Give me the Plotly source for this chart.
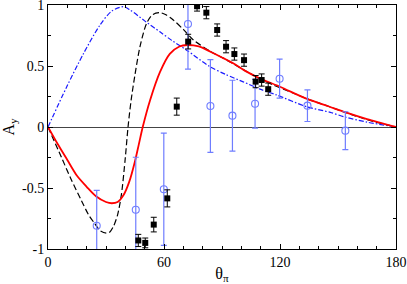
import plotly.graph_objects as go

# ---- data ----
# black squares (data set 1)
sq_theta = [46.7, 50.3, 54.7, 61.7, 66.6, 72.5, 77.1, 81.9, 87.5, 92.1, 96.4, 101.4, 107.4, 110.5, 113.9]
sq_ay    = [-0.93, -0.95, -0.80, -0.585, 0.167, 0.70, 0.99, 0.937, 0.795, 0.658, 0.598, 0.548, 0.372, 0.385, 0.31]
sq_err   = [0.05, 0.04, 0.06, 0.07, 0.07, 0.06, 0.04, 0.05, 0.05, 0.05, 0.05, 0.05, 0.05, 0.05, 0.05]

# open blue circles (data set 2)
ci_theta = [25.2, 45.4, 59.9, 72.4, 84.0, 95.4, 107.1, 119.8, 134.2, 153.8]
ci_ay    = [-0.81, -0.678, -0.51, 0.844, 0.172, 0.093, 0.19, 0.396, 0.175, -0.03]
ci_err   = [0.29, 0.43, 0.46, 0.37, 0.38, 0.29, 0.20, 0.16, 0.13, 0.155]

# red solid curve
red_theta = [0, 5, 10, 15, 20, 25, 30, 33, 36, 39, 42, 45, 47, 49, 52.8, 57.9, 63, 68, 72, 78, 84, 90, 96, 102, 110, 120, 134, 145, 154, 165, 180]
red_ay    = [0, -0.14, -0.27, -0.40, -0.49, -0.57, -0.615, -0.625, -0.615, -0.56, -0.45, -0.28, -0.14, 0, 0.22, 0.45, 0.60, 0.66, 0.672, 0.66, 0.617, 0.57, 0.52, 0.46, 0.395, 0.33, 0.23, 0.17, 0.12, 0.065, 0]

# black dashed curve
bd_theta = [0, 7, 12, 17.2, 21, 24.1, 27, 30.2, 32, 34, 36, 38, 40, 41.4, 43, 45, 47.6, 51, 54, 57.9, 61, 64.8, 70, 75.2, 84, 92.4, 104.5, 116.6, 125, 134.2, 145, 153.8, 165, 180]
bd_ay    = [0, -0.25, -0.43, -0.60, -0.72, -0.79, -0.85, -0.87, -0.86, -0.81, -0.72, -0.55, -0.25, 0, 0.22, 0.43, 0.66, 0.85, 0.92, 0.937, 0.92, 0.877, 0.80, 0.713, 0.62, 0.549, 0.44, 0.344, 0.29, 0.23, 0.17, 0.12, 0.06, 0]

# blue dash-dot curve
bl_theta = [0, 9.7, 18.3, 26.9, 33, 39, 42.4, 50, 57.9, 64, 71.7, 83.8, 92, 101, 109.7, 118.3, 134, 146, 154, 165, 180]
bl_ay    = [0, 0.33, 0.60, 0.836, 0.95, 0.986, 0.96, 0.87, 0.78, 0.71, 0.63, 0.494, 0.43, 0.37, 0.31, 0.262, 0.165, 0.12, 0.08, 0.04, 0]

x_ticks = [0, 60, 120, 180]
x_ticktext = ["0", "60", "120", "180"]
y_ticks = [-1, -0.5, 0, 0.5, 1]
y_ticktext = ["-1", "-0.5", "0", "0.5", "1"]

BLUE_PTS = "#6f7dff"

fig = go.Figure()

fig.add_trace(go.Scatter(x=bl_theta, y=bl_ay, mode="lines",
                         line=dict(color="#1a1aff", width=1.2, dash="5px,2px,1.5px,2px", shape="spline", smoothing=0.8),
                         showlegend=False))
fig.add_trace(go.Scatter(x=bd_theta, y=bd_ay, mode="lines",
                         line=dict(color="black", width=1.2, dash="6px,3px", shape="spline", smoothing=0.8),
                         showlegend=False))
fig.add_trace(go.Scatter(x=red_theta, y=red_ay, mode="lines",
                         line=dict(color="#ff0000", width=1.8, shape="spline", smoothing=0.8),
                         showlegend=False))
fig.add_trace(go.Scatter(x=ci_theta, y=ci_ay, mode="markers",
                         marker=dict(symbol="circle-open", size=7, color=BLUE_PTS, line=dict(width=1.1, color=BLUE_PTS)),
                         error_y=dict(type="data", array=ci_err, color=BLUE_PTS, thickness=1.2, width=3),
                         showlegend=False))
fig.add_trace(go.Scatter(x=sq_theta, y=sq_ay, mode="markers",
                         marker=dict(symbol="square", size=6, color="black"),
                         error_y=dict(type="data", array=sq_err, color="black", thickness=1, width=3),
                         showlegend=False))

font = dict(family="Liberation Serif", size=14, color="black")

fig.update_layout(
    width=407, height=284,
    margin=dict(l=48, r=11, t=5, b=35),
    paper_bgcolor="white", plot_bgcolor="white",
    font=font,
    xaxis=dict(range=[0, 180], tickvals=x_ticks, ticktext=x_ticktext, automargin=False,
               ticklabeloverflow="allow",
               ticks="inside", ticklen=5, tickcolor="black", showline=True, linecolor="black",
               linewidth=1, mirror="ticks", showgrid=False, zeroline=False,
               minor=dict(dtick=10, ticks="inside", ticklen=3, tickcolor="black"),
               title=dict(text="θ<sub>π</sub>", font=dict(family="Liberation Serif", size=16), standoff=0)),
    yaxis=dict(range=[-1, 1], tickvals=y_ticks, ticktext=y_ticktext, automargin=False,
               ticklabeloverflow="allow",
               ticks="inside", ticklen=5, tickcolor="black", showline=True, linecolor="black",
               linewidth=1, mirror="ticks", showgrid=False,
               zeroline=True, zerolinecolor="#444444", zerolinewidth=1,
               minor=dict(dtick=0.25, ticks="inside", ticklen=3, tickcolor="black"),
               title=dict(text="A<sub>y</sub>", font=dict(family="Liberation Serif", size=16), standoff=4)),
)

fig.write_html("out.html", config={"displayModeBar": False},
               post_script="document.body.style.margin='0';document.body.style.padding='0';")
